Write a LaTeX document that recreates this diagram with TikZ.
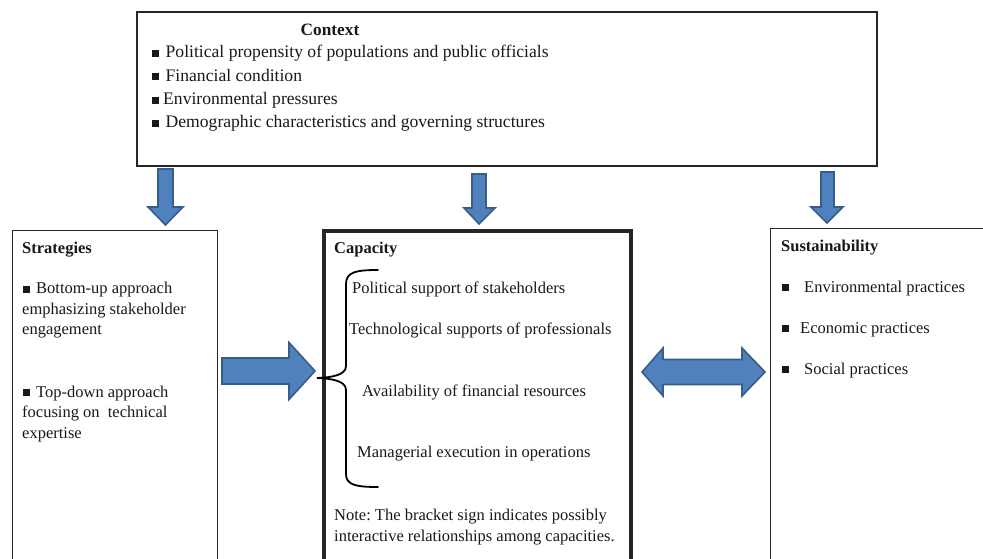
\documentclass[tikz,border=0pt]{standalone}
\usepackage{fontspec}
\setmainfont{Liberation Serif}
\frenchspacing
\newcommand{\blt}{\rule[1pt]{7pt}{7pt}}
\definecolor{arrfill}{HTML}{4F81BD}
\definecolor{arrline}{HTML}{385D8A}
\tikzset{
  box/.style={draw=black!85, line width=1.5pt, fill=white, anchor=north west, inner sep=0pt, outer sep=0pt, rectangle},
  blockarrow/.style={fill=arrfill, draw=arrline, line width=1.6pt, line join=miter},
  txt/.style={anchor=base west, inner sep=0pt, font=\fontsize{16.5}{20.5}\selectfont, text=black!90},
  ctxt/.style={anchor=base west, inner sep=0pt, font=\fontsize{17.6}{21}\selectfont, text=black!90},
}
\begin{document}
\begin{tikzpicture}[x=1pt, y=-1pt]
\useasboundingbox (0,0) rectangle (983,559);
\clip (0,0) rectangle (983,559);
% boxes
\node[box, line width=2pt, minimum width=740pt, minimum height=154pt] (ctx) at (137,12) {};
\node[box, minimum width=205pt, minimum height=340pt] (str) at (12.5,230.5) {};
\node[box, line width=3.5pt, minimum width=307pt, minimum height=340pt] (cap) at (324,231) {};
\node[box, minimum width=230pt, minimum height=340pt] (sus) at (770.5,228.5) {};
% context text
\node[ctxt, anchor=base, font=\fontsize{17.3}{21}\selectfont\bfseries] (ctxh) at (330,36) {Context};
\node[ctxt] (c1) at (151.5,58) {\blt\hspace{7pt}Political propensity of populations and public officials};
\node[ctxt] (c2) at (151.5,81.5) {\blt\hspace{7pt}Financial condition};
\node[ctxt] (c3) at (151.5,105) {\blt\hspace{4.5pt}Environmental pressures};
\node[ctxt] (c4) at (151.5,128) {\blt\hspace{7pt}Demographic characteristics and governing structures};
% strategies text
\node[txt, font=\fontsize{16.5}{20.5}\selectfont\bfseries] (strh) at (22,253) {Strategies};
\node[txt] (s1) at (23,293.5) {\blt\hspace{6pt}Bottom-up approach};
\node[txt] (s2) at (22,314) {emphasizing stakeholder};
\node[txt] (s3) at (22,334.5) {engagement};
\node[txt] (s4) at (23,397) {\blt\hspace{6pt}Top-down approach};
\node[txt] (s5) at (22,417.5) {focusing on\ \ technical};
\node[txt] (s6) at (22,438) {expertise};
% capacity text
\node[txt, font=\fontsize{16.5}{20.5}\selectfont\bfseries] (caph) at (334,253) {Capacity};
\node[txt] (k1) at (352,293) {Political support of stakeholders};
\node[txt] (k2) at (349,334) {Technological supports of professionals};
\node[txt] (k3) at (362,396) {Availability of financial resources};
\node[txt] (k4) at (357,457) {Managerial execution in operations};
\node[txt] (n1) at (334,520) {Note: The bracket sign indicates possibly};
\node[txt] (n2) at (334,541) {interactive relationships among capacities.};
% bracket
\draw[line width=1.8pt, line cap=round] (378,270) .. controls (356,270) and (346,272) .. (346,284)
  -- (346,366) .. controls (346,375) and (332,377.5) .. (317,378)
  .. controls (332,378.5) and (346,381) .. (346,390)
  -- (346,474) .. controls (346,485) and (356,487) .. (378,487);
% sustainability text
\node[txt, font=\fontsize{16.5}{20.5}\selectfont\bfseries] (sush) at (781,251) {Sustainability};
\node[txt] (u1) at (782,292) {\blt\hspace{15pt}Environmental practices};
\node[txt] (u2) at (782,333) {\blt\hspace{11pt}Economic practices};
\node[txt] (u3) at (782,374) {\blt\hspace{15pt}Social practices};
% down arrows
\draw[blockarrow] (158,169) -- (173,169) -- (173,207) -- (183,207) -- (165.5,225) -- (148,207) -- (158,207) -- cycle;
\draw[blockarrow] (472,174) -- (486,174) -- (486,208) -- (495,208) -- (479,224) -- (464,208) -- (472,208) -- cycle;
\draw[blockarrow] (821,172) -- (834,172) -- (834,207) -- (843,207) -- (827,223) -- (811,207) -- (821,207) -- cycle;
% right arrow strategies -> capacity
\draw[blockarrow] (222,358) -- (289,358) -- (289,342.5) -- (315,371) -- (289,399.5) -- (289,384) -- (222,384) -- cycle;
% double arrow capacity <-> sustainability
\draw[blockarrow] (642,372) -- (663,348) -- (663,359.5) -- (742,359.5) -- (742,348) -- (765,372) -- (742,396) -- (742,384.5) -- (663,384.5) -- (663,396) -- cycle;
\end{tikzpicture}
\end{document}
